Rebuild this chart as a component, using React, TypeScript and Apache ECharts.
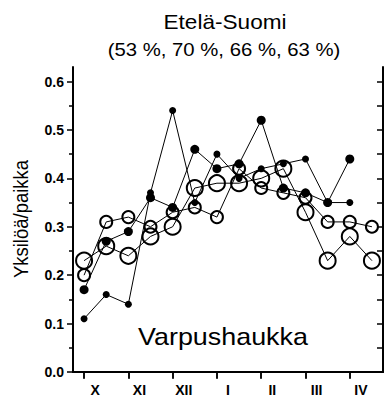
import React, { useEffect, useRef } from 'react';
import * as echarts from 'echarts';

const months = ['X', 'XI', 'XII', 'I', 'II', 'III', 'IV'];
const periods = ['X-1', 'X-2', 'XI-1', 'XI-2', 'XII-1', 'XII-2', 'I-1', 'I-2', 'II-1', 'II-2', 'III-1', 'III-2', 'IV-1', 'IV-2'];
const yMajorTicks = [0, 0.1, 0.2, 0.3, 0.4, 0.5, 0.6];
const yMinorTicks = [0.05, 0.15, 0.25, 0.35, 0.45, 0.55];
const yRightTicks = [0.05, 0.1, 0.15, 0.2, 0.25, 0.3, 0.35, 0.4, 0.45, 0.5, 0.55, 0.6];

const smallDots = [0.11, 0.16, 0.14, 0.37, 0.54, 0.35, 0.45, 0.40, 0.42, 0.43, 0.44, 0.35, 0.35, null];
const bigDots = [0.17, 0.27, 0.29, 0.36, 0.34, 0.46, 0.42, 0.43, 0.52, 0.38, 0.37, 0.35, 0.44, null];
const mediumCircles = [0.20, 0.31, 0.32, 0.30, 0.33, 0.34, 0.32, 0.42, 0.38, 0.37, 0.36, 0.31, 0.31, 0.30];
const largeCircles = [0.23, 0.26, 0.24, 0.28, 0.30, 0.38, 0.39, 0.39, 0.40, 0.42, 0.33, 0.23, 0.28, 0.23];

const titleText = 'Etelä-Suomi';
const subtitleText = '(53 %, 70 %, 66 %, 63 %)';
const yName = 'Yksilöä/paikka';
const speciesName = 'Varpushaukka';

const FONT = '"Liberation Sans", Arial, Helvetica, sans-serif';

export default function App() {
  const ref = useRef<HTMLDivElement>(null);
  useEffect(() => {
    const chart = echarts.init(ref.current!, null, { renderer: 'svg' });
    const axisLineStyle = { color: '#000', width: 2 };
    const tickStyle = { color: '#000', width: 1.5 };
    const lineSeries = (data: (number | null)[], size: number, filled: boolean, z: number) => ({
      type: 'line',
      xAxisIndex: 0,
      yAxisIndex: 0,
      data,
      symbol: 'circle',
      symbolSize: size,
      showAllSymbol: true,
      silent: true,
      z,
      lineStyle: { color: '#000', width: 1 },
      itemStyle: filled
        ? { color: '#000', borderWidth: 0 }
        : { color: 'rgba(0,0,0,0)', borderColor: '#000', borderWidth: 2 },
    });
    chart.setOption({
      animation: false,
      grid: { left: 73, right: 3, top: 67, bottom: 24, containLabel: false },
      graphic: [
        {
          type: 'text', x: 225, y: 22, scaleX: 1.13,
          style: { text: titleText, fontSize: 20, fontFamily: FONT, fill: '#000', align: 'center', verticalAlign: 'middle' },
        },
        {
          type: 'text', x: 224, y: 50, scaleX: 1.13,
          style: { text: subtitleText, fontSize: 18, fontFamily: FONT, fill: '#000', align: 'center', verticalAlign: 'middle' },
        },
        {
          type: 'text', x: 21, y: 219, rotation: Math.PI / 2, scaleY: 1.13,
          style: { text: yName, fontSize: 18.5, fontFamily: FONT, fill: '#000', align: 'center', verticalAlign: 'middle' },
        },
        {
          type: 'text', x: 223, y: 337, scaleX: 1.12, z: 10,
          style: { text: speciesName, fontSize: 24, fontFamily: FONT, fill: '#000', align: 'center', verticalAlign: 'middle' },
        },
      ],
      xAxis: [
        {
          type: 'category', data: periods, position: 'bottom', boundaryGap: true,
          axisLine: { show: true, lineStyle: axisLineStyle },
          axisTick: { show: true, alignWithLabel: true, inside: false, length: 7, lineStyle: tickStyle },
          axisLabel: { show: false }, splitLine: { show: false },
        },
        {
          type: 'category', data: months, position: 'bottom', boundaryGap: true,
          axisLine: { show: false }, axisTick: { show: false }, splitLine: { show: false },
          axisLabel: { show: true, interval: 0, fontSize: 14, fontWeight: 'bold', color: '#000', margin: 11, fontFamily: FONT },
        },
        {
          type: 'category', data: periods, position: 'top', boundaryGap: true,
          axisLine: { show: true, lineStyle: axisLineStyle },
          axisTick: { show: true, alignWithLabel: true, inside: true, length: 6, lineStyle: tickStyle },
          axisLabel: { show: false }, splitLine: { show: false },
        },
      ],
      yAxis: [
        {
          type: 'value', min: 0, max: 0.63, position: 'left',
          axisLine: { show: true, lineStyle: axisLineStyle },
          axisTick: { show: true, length: 6, customValues: yMajorTicks, lineStyle: tickStyle },
          axisLabel: {
            show: true, customValues: yMajorTicks, formatter: (v: number) => v.toFixed(1),
            fontSize: 14, fontWeight: 'bold', color: '#000', margin: 9, fontFamily: FONT,
          },
          splitLine: { show: false },
        },
        {
          type: 'value', min: 0, max: 0.63, position: 'left',
          axisLine: { show: false },
          axisTick: { show: true, length: 4, customValues: yMinorTicks, lineStyle: tickStyle },
          axisLabel: { show: false }, splitLine: { show: false },
        },
        {
          type: 'value', min: 0, max: 0.63, position: 'right',
          axisLine: { show: true, lineStyle: axisLineStyle },
          axisTick: { show: true, inside: true, length: 6, customValues: yRightTicks, lineStyle: tickStyle },
          axisLabel: { show: false }, splitLine: { show: false },
        },
      ],
      series: [
        lineSeries(largeCircles, 16, false, 2),
        lineSeries(mediumCircles, 12, false, 3),
        lineSeries(bigDots, 9, true, 4),
        lineSeries(smallDots, 7, true, 5),
      ],
    });
    return () => chart.dispose();
  }, []);
  return <div ref={ref} style={{ position: 'absolute', left: 0, top: 0, width: 386, height: 397 }} />;
}
